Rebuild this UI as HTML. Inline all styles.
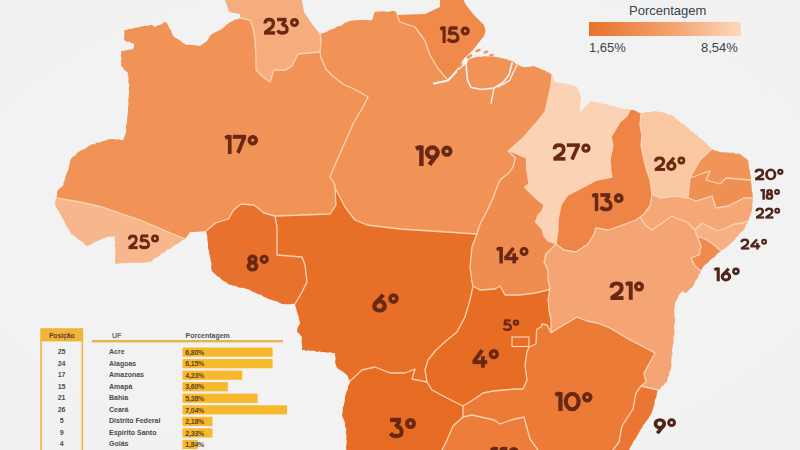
<!DOCTYPE html>
<html><head><meta charset="utf-8"><style>
html,body{margin:0;padding:0;}
body{width:800px;height:450px;overflow:hidden;position:relative;background:#f3f3f3;font-family:"Liberation Sans",sans-serif;}
#bg{position:absolute;left:0;top:0;width:800px;height:450px;}
#map{position:absolute;left:0;top:0;width:800px;height:450px;filter:blur(0.4px);}
.lb{position:absolute;font-weight:bold;color:#5a2210;line-height:1;white-space:nowrap;letter-spacing:-0.5px;}
.leg{position:absolute;color:#37434f;font-size:13px;line-height:1;white-space:nowrap;}
#grad{position:absolute;left:589px;top:22px;width:152px;height:14px;background:linear-gradient(90deg,#e8712a 0%,#f3a36e 55%,#fdd8bd 100%);}
.tp{position:absolute;left:42px;width:41px;text-align:center;font-size:7.5px;color:#3d3530;line-height:10px;}
.tu{position:absolute;left:108.5px;font-size:7.5px;color:#3d3530;line-height:10px;white-space:nowrap;}
.bar{position:absolute;left:182.5px;height:8.6px;background:#f6b833;}
.bt{position:absolute;left:184.5px;font-size:7px;color:#4a3420;line-height:10px;letter-spacing:-0.3px;}
</style></head><body>
<svg id="bg" width="800" height="450" viewBox="0 0 800 450">
<defs><radialGradient id="rg" cx="0.5" cy="0.5" r="0.7"><stop offset="0" stop-color="#f4f4f4"/><stop offset="1" stop-color="#f1f1f1"/></radialGradient></defs>
<rect width="800" height="450" fill="url(#rg)"/>
</svg>
<svg id="map" width="800" height="450" viewBox="0 0 800 450">
<path d="M56,198 L57,196 L57.06,193.48 L57.5,191 L59.23,188.73 L61.62,187.12 L63.5,185 L63.54,182.73 L64.54,180.68 L65,178.5 L65.86,175.95 L66.55,173.32 L68,171 L68.59,168.84 L68.68,166.53 L69.68,164.48 L69.88,162.21 L70.48,160.05 L71.5,158 L73.35,156.43 L75.52,155.28 L76.94,153.18 L78.91,151.76 L81,150.5 L83.27,149.38 L85.64,148.45 L87.64,146.85 L89.74,145.44 L92,144.3 L94.54,144.15 L96.67,142.5 L99.3,142.7 L101.54,141.44 L104,141 L106.57,139.95 L109.23,139.26 L112,139 L114.22,138.99 L116.37,139.75 L118.63,139.25 L120.79,139.89 L123,140 L124.14,137.73 L124.87,135.28 L126,133 L126.25,130.7 L125.92,128.36 L126.12,126.06 L126.48,123.77 L127.2,121.52 L127.12,119.19 L127.2,116.88 L127.69,114.61 L127.75,112.3 L128,110 L127.88,107.69 L128.52,105.41 L128.52,103.11 L128.12,100.79 L128.58,98.5 L128.63,96.2 L129.11,93.92 L129.05,91.61 L128.67,89.29 L129,87 L129.36,84.63 L128.25,82.36 L128.41,80.01 L128.62,77.65 L127.78,75.36 L128,73 L126.24,71.26 L124.14,69.86 L122.88,67.62 L121,66 L121.29,63.5 L121.08,61 L121.41,58.5 L120.8,56 L121.21,53.5 L121,51 L123.42,50.7 L125.81,50.29 L128.19,49.75 L130.66,49.77 L133,49 L133.98,46.6 L134,44 L131.49,43.03 L129.07,41.83 L126.32,41.45 L124,40 L124.22,37.5 L124.16,35 L124.54,32.5 L124,30 L126.4,29.93 L128.63,28.93 L130.98,28.63 L133.37,28.52 L135.57,27.4 L137.99,27.46 L140.27,26.72 L142.59,26.25 L144.91,25.77 L147.39,26.12 L149.59,25.02 L152,25 L155,27 L157.09,25.75 L159.35,24.89 L161.77,24.37 L163.61,22.58 L166,22 L167.3,23.97 L168.45,26.03 L169.39,28.22 L171,30 L171.68,32.47 L172.63,34.82 L174,37 L176.29,38.13 L178.38,39.59 L180.58,40.87 L182.45,42.69 L184.57,44.1 L187,45 L189.63,44.82 L192.23,45.04 L194.82,45.31 L197.42,45.51 L200,46 L202.32,44.32 L204.72,42.75 L207,41 L208.45,38.51 L209.89,36.02 L212,34 L213.96,32.92 L215.94,31.87 L218.03,31.07 L220,30 L222.31,28.79 L224.13,26.96 L226.01,25.21 L228.08,23.7 L230,22 L232.57,21.18 L234.82,19.54 L237.66,19.41 L240,18 L250,20 L253,28 L255,40 L256,56 L256,70 L262,76 L270,82 L274,70 L286,70 L292,66 L298,54 L320,52 L321,58 L323,62 L326,69 L332,75.5 L343,84 L354,89 L363,94 L368,97 L363,107 L354,122 L346,140 L338,158 L330,177 L335,185 L335,188 L336,205 L330,214 L275,216 L264,213 L254,205 L241,204 L233.5,210 L228.5,219 L215.5,223 L206,231 L203.73,231.36 L201.44,231.49 L199.17,231.86 L196.86,231.66 L194.59,232.07 L192.31,232.19 L190,232 L188.63,234.55 L186.67,236.67 L185,239 L140,220 L102,207 L80,202 L56,198Z" fill="#f19256"/>
<path d="M240,18 L240,14 L229,12 L228,8 L225,0 L225,-3 L302,-3 L302,0 L304,12 L312,24 L320,34 L321,40 L320,52 L298,54 L292,66 L286,70 L274,70 L270,82 L262,76 L256,70 L256,56 L255,40 L253,28 L250,20 L240,18Z" fill="#f6ad7e"/>
<path d="M320,34 L322.61,33.29 L325.15,32.38 L327.62,31.3 L330,30 L332.46,28.89 L334.96,27.9 L337.34,26.6 L340,26 L342.07,25.13 L343.78,23.57 L345.79,22.57 L347.86,21.71 L350,21 L352.18,20.53 L354.39,20.62 L356.58,20.21 L358.78,20.05 L360.98,20.12 L363.18,19.96 L365.39,20.15 L367.58,19.68 L369.82,20.51 L372,20 L373.12,17.38 L373.64,14.53 L375,12 L377.21,11.62 L379.44,11.61 L381.66,11.52 L383.87,11.14 L386.13,11.83 L388.36,11.88 L390.55,11.18 L392.78,11.09 L395,11 L396.41,12.8 L397,15 L400,22 L415,27 L423,38 L425,41 L430,55 L437,67 L443,74.5 L448,80 L449.44,77.94 L451.38,76.38 L453.07,74.57 L455,73 L457.01,71.51 L458.24,69.24 L459.88,67.38 L462,66 L464.02,64.68 L465.36,62.69 L467,61 L469.3,59.17 L472,58 L474.41,57.65 L476.71,56.69 L479.21,56.83 L481.69,56.92 L484,56 L486.37,56.6 L488.78,56.62 L491.22,56.34 L493.61,56.65 L496,57 L498.57,57.14 L500.94,58.29 L503.49,58.54 L506,59 L508.9,60.29 L512,61 L514.11,62.35 L516,64 L518.45,64.72 L520.53,66.31 L523,67 L525.25,67.33 L527.44,66.99 L529.63,66.74 L531.83,66.55 L534,66 L536.06,67.24 L538.46,67.73 L540.49,69.02 L542.73,69.86 L545.05,70.53 L547,72 L549.77,73.05 L552,75 L551,85 L550,90 L545,112 L537,122 L523,138 L508,151 L515.5,158 L513,167 L509,173 L500,180 L495.5,191 L493,198 L487,211 L480,224 L477,234 L400,229 L367,225 L355,220 L345,207 L335,188 L335,185 L330,177 L338,158 L346,140 L354,122 L363,107 L368,97 L363,94 L354,89 L343,84 L332,75.5 L326,69 L323,62 L321,58 L320,52 L321,40 L320,34Z" fill="#f19256"/>
<path d="M397,15 L425,14 L440,7 L440,-3 L462,-3 L466,5 L474,15 L484,25 L485.5,31 L484,36 L480,41 L473,50 L464,58.5 L457,69 L450,78 L448,80 L443,74.5 L437,67 L430,55 L425,41 L423,38 L415,27 L400,22 L397,15Z" fill="#ef8a4b"/>
<path d="M56,198 L55.32,200.28 L55.41,202.68 L55,205 L56.17,207 L57.02,209.19 L58.6,210.94 L59.66,213 L60.65,215.1 L62,217 L62.66,219.37 L64.4,221.17 L65.05,223.55 L66.3,225.61 L67.49,227.69 L68.84,229.7 L70.02,231.8 L71,234 L73.07,234.94 L74.8,236.34 L76.62,237.62 L77.95,239.55 L80.05,240.45 L81.89,241.7 L83.72,242.97 L85,244.97 L87,246 L89.39,245.37 L91.52,244.17 L93.57,242.78 L95.77,241.74 L98.02,240.79 L100.32,239.96 L102.4,238.66 L104.75,237.95 L107,237 L109.63,236.41 L112.4,236.84 L115,236 L114.48,238.33 L114.95,240.67 L115.28,243 L114.49,245.33 L115.21,247.67 L115.16,250 L115.55,252.33 L115.13,254.67 L115.03,257 L115,259.33 L115.33,261.67 L115,264 L117.33,263.87 L119.64,263.19 L121.99,263.34 L124.31,263.02 L126.66,263.22 L128.97,262.7 L131.3,262.54 L133.65,262.72 L135.98,262.51 L138.34,262.76 L140.67,262.57 L143.02,262.68 L145.34,262.44 L147.68,262.37 L150,262 L152.24,260.94 L153.93,259.1 L155.89,257.64 L158.31,256.84 L160,255 L161.66,253.43 L163.89,252.71 L165.71,251.38 L167.22,249.58 L169.58,249.06 L171.49,247.86 L173.2,246.37 L175,245 L177.13,244.02 L179.18,242.89 L180.8,241.06 L183.01,240.22 L185,239 L140,220 L102,207 L80,202 L56,198Z" fill="#f7b68c"/>
<path d="M206,231 L215.5,223 L228.5,219 L233.5,210 L241,204 L254,205 L264,213 L275,216 L277,227 L277,255 L302,257 L305,265 L307,282 L302,292 L295,304 L292.4,303.77 L289.8,304.19 L287.2,304.21 L284.6,304.19 L282,304 L279.84,302.89 L277.68,301.8 L275.44,300.88 L272.97,300.57 L270.83,299.42 L268.4,299 L266.35,297.62 L264,297 L262.03,295.58 L259.92,294.44 L257.5,293.93 L255.37,292.83 L253.15,291.91 L251.05,290.75 L249,289.5 L246.73,288.92 L244.48,288.26 L242.17,287.83 L239.76,287.79 L237.55,286.98 L235.41,285.85 L233,285.86 L230.84,284.81 L228.5,284.5 L226.9,282.75 L224.91,281.53 L222.72,280.59 L221,279 L219.51,277.13 L217.29,276.13 L215.58,274.53 L213.8,273 L212,271.5 L211.43,269.03 L211.07,266.54 L211.64,263.93 L210.81,261.5 L210.5,259 L209.89,256.87 L209.53,254.69 L209.11,252.53 L208.77,250.35 L208.05,248.24 L208,246 L208.1,243.44 L207.49,240.98 L207.4,238.45 L207.18,235.93 L206.63,233.46 L206,231Z" fill="#e8722d"/>
<path d="M335,188 L336,205 L330,214 L275,216 L277,227 L277,255 L302,257 L305,265 L307,282 L302,292 L295,304 L295.65,306.67 L296.37,309.32 L297,312 L297.79,314.49 L298.9,316.88 L298.84,319.62 L300,322 L299.57,324.6 L298,326.85 L297.29,329.36 L297,332 L299.04,333.29 L300.37,335.3 L302,337 L301.65,339.6 L301.49,342.2 L302.06,344.8 L302.25,347.4 L302,350 L304.23,349.88 L306.36,350.89 L308.63,350.28 L310.79,350.89 L313.04,350.61 L315.2,351.23 L317.35,351.9 L319.64,351.2 L321.77,352.15 L324,352.01 L326.16,352.62 L328.38,352.62 L330.63,352.31 L332.76,353.24 L335,353 L335.02,355.25 L335.52,357.5 L335.55,359.75 L335,362 L336.01,365 L337,368 L339.03,369.36 L341.12,370.62 L343.23,371.88 L345.1,373.46 L347,375 L348.18,376.91 L348.67,379.17 L350,381 L362,370 L375,367 L390,373 L405,373 L415,369 L412,379 L427,382 L425,370 L428,360 L436,350 L447,340 L457,332 L465,317 L470,300 L473,286 L472,282 L470,267 L472,247 L477,234 L400,229 L367,225 L355,220 L345,207 L335,188Z" fill="#e86f27"/>
<path d="M552,75 L553.22,77.24 L554.24,79.56 L555,82 L557.47,82.54 L559.93,83.16 L562.51,82.94 L564.94,83.81 L567.43,84.2 L570,84 L572.14,85.46 L574.73,85.86 L577,87 L578.29,89.39 L579.28,91.89 L580.31,94.38 L581,97 L581.16,99.52 L580.53,101.99 L580.06,104.47 L579.96,106.98 L580.19,109.5 L580,112 L581.79,110.28 L583.58,108.56 L584.66,106.19 L586.8,104.79 L588.67,103.14 L590,101 L592.44,101.8 L594.95,102.27 L597.5,102.48 L600.07,102.65 L602.44,103.81 L605,104 L607.44,104.42 L609.72,105.52 L612.07,106.3 L614.63,106.29 L617,107 L619.19,107.39 L621.22,108.48 L623.44,108.74 L625.75,108.65 L627.93,109.1 L630,110 L627,116 L620,122 L614,132 L611,137 L613,145 L610,160 L611,172 L612,177 L597,180 L578,190 L568,195 L561,205 L558,220 L558,230 L556,244 L548,241 L544,236 L542,229 L535.5,222 L538,215.5 L542,211 L544,204.5 L540,202 L533,195.5 L524.5,187 L529,184 L526.5,169 L526.5,158 L520,155.5 L513,152 L508,151 L523,138 L537,122 L545,112 L550,90 L551,85 L552,75Z" fill="#fbd2b3"/>
<path d="M508,151 L513,152 L520,155.5 L526.5,158 L526.5,169 L529,184 L524.5,187 L533,195.5 L540,202 L544,204.5 L542,211 L538,215.5 L535.5,222 L542,229 L544,236 L548,241 L556,244 L546,254 L544,262 L548,270 L548,280 L550,288 L548,290 L535,293 L520,295 L505,295 L500,286 L495,289 L480,290 L473,286 L472,282 L470,267 L472,247 L477,234 L480,224 L487,211 L493,198 L495.5,191 L500,180 L509,173 L513,167 L515.5,158 L508,151Z" fill="#ef8c4f"/>
<path d="M630,110 L633.06,110.12 L636,111 L638.33,112.41 L641,113 L640,125 L642,135 L641,145 L644,160 L646,168 L650,180 L652,194 L650,206 L644,214 L640,217 L636,220 L620,226 L608,230 L596,228 L594,234 L588,244 L576,252 L564,250 L556,244 L558,230 L558,220 L561,205 L568,195 L578,190 L597,180 L612,177 L611,172 L610,160 L613,145 L611,137 L614,132 L620,122 L627,116 L630,110Z" fill="#ee8446"/>
<path d="M641,113 L643.38,113 L645.61,111.95 L648.05,112.36 L650.41,112.19 L652.69,111.5 L655,111 L657.47,111.41 L659.84,112.19 L662.38,112.32 L664.84,112.77 L667.02,114.36 L669.53,114.59 L672,115 L673.78,116.52 L675.29,118.37 L677.45,119.44 L678.94,121.31 L680.77,122.78 L683,123.76 L684.77,125.29 L686.55,126.83 L688.38,128.28 L690,130 L691.82,131.57 L693.92,132.79 L695.68,134.43 L697.75,135.68 L699.09,137.85 L701.35,138.87 L703.15,140.46 L705,142 L706.69,143.81 L708.19,145.81 L710.31,147.19 L712,149 L700,160 L692,174 L690,178 L688,198 L675,196 L660,198 L652,194 L650,180 L646,168 L644,160 L641,145 L642,135 L640,125 L641,113Z" fill="#f9c7a2"/>
<path d="M712,149 L714.51,150.43 L717.33,151 L720,152 L722.22,152.26 L724.44,152.47 L726.72,152.14 L728.9,152.82 L731.15,152.76 L733.39,152.79 L735.52,153.88 L737.81,153.42 L740,154 L742.02,155.48 L743.85,157.2 L745.96,158.55 L748,160 L748.52,162.19 L748.65,164.45 L748.94,166.68 L749.02,168.94 L750.1,171.05 L749.93,173.34 L750.61,175.51 L750.91,177.74 L751,180 L726,178 L720,184 L706,180 L710,171 L690,178 L692,174 L700,160 L712,149Z" fill="#f19458"/>
<path d="M690,178 L710,171 L706,180 L720,184 L726,178 L751,180 L750.95,182.28 L751.49,184.5 L751.68,186.76 L751.72,189.03 L751.8,191.3 L752.56,193.49 L752.63,195.76 L753,198 L744,198 L728,206 L716,208 L712,196 L696,201 L688,198 L690,178Z" fill="#f08f53"/>
<path d="M652,194 L660,198 L675,196 L688,198 L696,201 L712,196 L716,208 L728,206 L744,198 L753,198 L752.79,200.4 L752.59,202.8 L752.19,205.18 L752.25,207.6 L752,210 L751.21,212.49 L750.52,215.01 L749.28,217.36 L749,220 L743,223 L734,224 L726,228 L717,231 L710,227 L702,223 L695,230 L693,228 L687,222 L678,219 L672,216 L652,230 L645,225 L640,217 L644,214 L650,206 L652,194Z" fill="#f5a776"/>
<path d="M695,230 L702,223 L710,227 L717,231 L726,228 L734,224 L743,223 L749,220 L747.8,221.9 L746.63,223.81 L745.56,225.78 L745,228 L743.45,230.17 L741.45,231.96 L739.38,233.68 L738,236 L736.14,237.34 L735.08,239.48 L733.49,241.09 L731.65,242.45 L730,244 L728.49,245.77 L726.58,247.03 L724.89,248.57 L722.69,249.45 L721,251 L713,244 L705,239 L697,236 L695,230Z" fill="#f6b085"/>
<path d="M697,236 L705,239 L713,244 L721,251 L718.79,252.51 L716.71,254.17 L715.25,256.54 L713,258 L711.1,259.32 L709.39,260.87 L708.01,262.8 L706,264 L703.99,266.09 L702.25,268.37 L701,271 L695,266 L691,258 L699,255 L701,246 L697,236Z" fill="#ef8b4f"/>
<path d="M556,244 L564,250 L576,252 L588,244 L594,234 L596,228 L608,230 L620,226 L636,220 L640,217 L645,225 L652,230 L672,216 L678,219 L687,222 L693,228 L695,230 L697,236 L701,246 L699,255 L691,258 L695,266 L701,271 L700.28,273.14 L698.55,274.78 L698.1,277.05 L697.01,279.01 L695.52,280.76 L694.67,282.84 L694,285 L692.66,286.86 L690.85,288.25 L689.19,289.79 L687.73,291.53 L686,293 L683.85,292.3 L682,291 L680.83,293.11 L679.13,294.86 L678,297 L677.47,299.24 L675.95,300.97 L675,303 L674.73,305.34 L674.86,307.74 L674,310 L674.38,312.38 L674.26,314.81 L674.59,317.2 L675.28,319.56 L675,322 L674.27,324.15 L674.28,326.37 L673.88,328.55 L674.63,330.84 L674.26,333.02 L674.3,335.25 L673.29,337.37 L673.65,339.62 L673.61,341.84 L673,344 L672.89,346.31 L672.15,348.56 L672.05,350.87 L672.46,353.22 L672.38,355.53 L671.34,357.76 L671.52,360.09 L671.18,362.38 L671.65,364.74 L671,367 L670.9,369.27 L669.66,371.23 L669.37,373.45 L669.17,375.69 L667.68,377.59 L667.43,379.82 L667,382 L664.98,383.35 L663.7,385.54 L661.34,386.51 L660.12,388.76 L658,390 L641,386 L646,382 L644,373 L649,364 L655,353 L644,347 L630,340 L620,334 L610,328 L597,323 L587,321 L577,317 L562,326 L557,329 L551,333 L551,320 L549,310 L548,300 L550,288 L548,280 L548,270 L544,262 L546,254 L556,244Z" fill="#f5a574"/>
<path d="M473,286 L480,290 L495,289 L500,286 L505,295 L520,295 L535,293 L548,290 L550,288 L548,300 L549,310 L551,320 L551,333 L547,325 L542,324 L541,327 L537,329 L536.5,332 L536,344 L529,347 L527,352 L525,365 L527,380 L523,389 L515,389 L493,391 L483,393 L476,398 L463,406 L447,398 L432,390 L427,382 L425,370 L428,360 L436,350 L447,340 L457,332 L465,317 L470,300 L473,286Z" fill="#e76c24"/>
<path d="M350,381 L362,370 L375,367 L390,373 L405,373 L415,369 L412,379 L427,382 L432,390 L447,398 L463,406 L463,417 L453,426 L447,440 L442,450 L440,462 L347,462 L346.88,459.73 L346.38,457.48 L346.35,455.21 L346.59,452.94 L346.32,450.68 L346.18,448.41 L346.03,446.15 L346.61,443.86 L346.74,441.59 L346.32,439.33 L346.52,437.06 L346.48,434.79 L345.65,432.55 L346.3,430.26 L346,428 L344.98,425.94 L345.09,423.54 L344.47,421.35 L343.57,419.26 L342.74,417.14 L342,415 L342.58,412.6 L342.76,410.13 L342.75,407.62 L343.83,405.31 L344.28,402.88 L344.8,400.47 L345,398 L345.2,395.75 L346.03,393.68 L346.43,391.49 L347.9,389.62 L347.77,387.27 L348.49,385.17 L349.9,383.28 L350,381Z" fill="#e66b23"/>
<path d="M551,333 L547,325 L542,324 L541,327 L537,329 L536.5,332 L536,344 L529,347 L527,352 L525,365 L527,380 L523,389 L515,389 L493,391 L483,393 L476,398 L463,406 L463,417 L472,415 L494,420 L500,424 L511,420 L524,417 L527,428 L530,439 L538,450 L540,462 L610,462 L613,450 L619,442 L622,426 L633,409 L636,393 L641,386 L646,382 L644,373 L649,364 L655,353 L644,347 L630,340 L620,334 L610,328 L597,323 L587,321 L577,317 L562,326 L557,329 L551,333Z" fill="#ec7b38"/>
<path d="M641,386 L658,390 L657.02,392.1 L656.85,394.41 L656.37,396.65 L655.54,398.78 L654.55,400.88 L654.65,403.27 L654.19,405.51 L653.17,407.59 L652.88,409.88 L652,412 L651.14,414.12 L649.87,415.98 L648.75,417.94 L647.39,419.73 L646.06,421.56 L644.85,423.45 L643.2,425.07 L642.42,427.24 L641,429 L639.67,431.17 L638.64,433.52 L637.14,435.59 L636.12,437.94 L634.57,439.98 L633,442 L632.48,444.24 L630.77,445.89 L629.95,447.97 L629.31,450.15 L628,452 L627.03,454.51 L625.56,456.82 L625.4,459.66 L624,462 L610,462 L613,450 L619,442 L622,426 L633,409 L636,393 L641,386Z" fill="#eb7633"/>
<path d="M463,417 L453,426 L447,440 L442,450 L440,462 L540,462 L538,450 L530,439 L527,428 L524,417 L511,420 L500,424 L494,420 L472,415 L463,417Z" fill="#ec7d3b"/>
<path d="M56,198 L80,202 L102,207 L140,220 L185,239" fill="none" stroke="#fcd3b2" stroke-width="1.3" stroke-linejoin="round"/>
<path d="M240,18 L250,20 L253,28 L255,40 L256,56 L256,70 L262,76 L270,82 L274,70 L286,70 L292,66 L298,54 L320,52" fill="none" stroke="#fcd3b2" stroke-width="1.3" stroke-linejoin="round"/>
<path d="M320,34 L321,40 L320,52" fill="none" stroke="#fcd3b2" stroke-width="1.3" stroke-linejoin="round"/>
<path d="M320,52 L321,58 L323,62 L326,69 L332,75.5 L343,84 L354,89 L363,94 L368,97 L363,107 L354,122 L346,140 L338,158 L330,177 L335,185 L335,188" fill="none" stroke="#fcd3b2" stroke-width="1.3" stroke-linejoin="round"/>
<path d="M335,188 L336,205 L330,214 L275,216" fill="none" stroke="#fcd3b2" stroke-width="1.3" stroke-linejoin="round"/>
<path d="M206,231 L215.5,223 L228.5,219 L233.5,210 L241,204 L254,205 L264,213 L275,216" fill="none" stroke="#fcd3b2" stroke-width="1.3" stroke-linejoin="round"/>
<path d="M275,216 L277,227 L277,255 L302,257 L305,265 L307,282 L302,292 L295,304" fill="none" stroke="#fcd3b2" stroke-width="1.3" stroke-linejoin="round"/>
<path d="M335,188 L345,207 L355,220 L367,225 L400,229 L477,234" fill="none" stroke="#fcd3b2" stroke-width="1.3" stroke-linejoin="round"/>
<path d="M397,15 L400,22 L415,27 L423,38 L425,41 L430,55 L437,67 L443,74.5 L448,80" fill="none" stroke="#fcd3b2" stroke-width="1.3" stroke-linejoin="round"/>
<path d="M552,75 L551,85 L550,90 L545,112 L537,122 L523,138 L508,151" fill="none" stroke="#fcd3b2" stroke-width="1.3" stroke-linejoin="round"/>
<path d="M508,151 L515.5,158 L513,167 L509,173 L500,180 L495.5,191 L493,198 L487,211 L480,224 L477,234" fill="none" stroke="#fcd3b2" stroke-width="1.3" stroke-linejoin="round"/>
<path d="M508,151 L513,152 L520,155.5 L526.5,158 L526.5,169 L529,184 L524.5,187 L533,195.5 L540,202 L544,204.5 L542,211 L538,215.5 L535.5,222 L542,229 L544,236 L548,241 L556,244" fill="none" stroke="#fcd3b2" stroke-width="1.3" stroke-linejoin="round"/>
<path d="M630,110 L627,116 L620,122 L614,132 L611,137 L613,145 L610,160 L611,172 L612,177 L597,180 L578,190 L568,195 L561,205 L558,220 L558,230 L556,244" fill="none" stroke="#fcd3b2" stroke-width="1.3" stroke-linejoin="round"/>
<path d="M641,113 L640,125 L642,135 L641,145 L644,160 L646,168 L650,180 L652,194" fill="none" stroke="#fcd3b2" stroke-width="1.3" stroke-linejoin="round"/>
<path d="M712,149 L700,160 L692,174 L690,178" fill="none" stroke="#fcd3b2" stroke-width="1.3" stroke-linejoin="round"/>
<path d="M690,178 L710,171 L706,180 L720,184 L726,178 L751,180" fill="none" stroke="#fcd3b2" stroke-width="1.3" stroke-linejoin="round"/>
<path d="M690,178 L688,198" fill="none" stroke="#fcd3b2" stroke-width="1.3" stroke-linejoin="round"/>
<path d="M688,198 L696,201 L712,196 L716,208 L728,206 L744,198 L753,198" fill="none" stroke="#fcd3b2" stroke-width="1.3" stroke-linejoin="round"/>
<path d="M652,194 L660,198 L675,196 L688,198" fill="none" stroke="#fcd3b2" stroke-width="1.3" stroke-linejoin="round"/>
<path d="M652,194 L650,206 L644,214 L640,217" fill="none" stroke="#fcd3b2" stroke-width="1.3" stroke-linejoin="round"/>
<path d="M556,244 L564,250 L576,252 L588,244 L594,234 L596,228 L608,230 L620,226 L636,220 L640,217" fill="none" stroke="#fcd3b2" stroke-width="1.3" stroke-linejoin="round"/>
<path d="M640,217 L645,225 L652,230 L672,216 L678,219 L687,222 L693,228 L695,230" fill="none" stroke="#fcd3b2" stroke-width="1.3" stroke-linejoin="round"/>
<path d="M695,230 L702,223 L710,227 L717,231 L726,228 L734,224 L743,223 L749,220" fill="none" stroke="#fcd3b2" stroke-width="1.3" stroke-linejoin="round"/>
<path d="M695,230 L697,236" fill="none" stroke="#fcd3b2" stroke-width="1.3" stroke-linejoin="round"/>
<path d="M697,236 L705,239 L713,244 L721,251" fill="none" stroke="#fcd3b2" stroke-width="1.3" stroke-linejoin="round"/>
<path d="M697,236 L701,246 L699,255 L691,258 L695,266 L701,271" fill="none" stroke="#fcd3b2" stroke-width="1.3" stroke-linejoin="round"/>
<path d="M556,244 L546,254 L544,262 L548,270 L548,280 L550,288" fill="none" stroke="#fcd3b2" stroke-width="1.3" stroke-linejoin="round"/>
<path d="M477,234 L472,247 L470,267 L472,282 L473,286" fill="none" stroke="#fcd3b2" stroke-width="1.3" stroke-linejoin="round"/>
<path d="M473,286 L480,290 L495,289 L500,286 L505,295 L520,295 L535,293 L548,290 L550,288" fill="none" stroke="#fcd3b2" stroke-width="1.3" stroke-linejoin="round"/>
<path d="M550,288 L548,300 L549,310 L551,320 L551,333" fill="none" stroke="#fcd3b2" stroke-width="1.3" stroke-linejoin="round"/>
<path d="M551,333 L557,329 L562,326 L577,317 L587,321 L597,323 L610,328 L620,334 L630,340 L644,347 L655,353 L649,364 L644,373 L646,382 L641,386" fill="none" stroke="#fcd3b2" stroke-width="1.3" stroke-linejoin="round"/>
<path d="M641,386 L658,390" fill="none" stroke="#fcd3b2" stroke-width="1.3" stroke-linejoin="round"/>
<path d="M641,386 L636,393 L633,409 L622,426 L619,442 L613,450 L610,462" fill="none" stroke="#fcd3b2" stroke-width="1.3" stroke-linejoin="round"/>
<path d="M551,333 L547,325 L542,324 L541,327 L537,329 L536.5,332 L536,344 L529,347 L527,352 L525,365 L527,380 L523,389 L515,389 L493,391 L483,393 L476,398 L463,406" fill="none" stroke="#fcd3b2" stroke-width="1.3" stroke-linejoin="round"/>
<path d="M473,286 L470,300 L465,317 L457,332 L447,340 L436,350 L428,360 L425,370 L427,382" fill="none" stroke="#fcd3b2" stroke-width="1.3" stroke-linejoin="round"/>
<path d="M350,381 L362,370 L375,367 L390,373 L405,373 L415,369 L412,379 L427,382" fill="none" stroke="#fcd3b2" stroke-width="1.3" stroke-linejoin="round"/>
<path d="M427,382 L432,390 L447,398 L463,406" fill="none" stroke="#fcd3b2" stroke-width="1.3" stroke-linejoin="round"/>
<path d="M463,406 L463,417" fill="none" stroke="#fcd3b2" stroke-width="1.3" stroke-linejoin="round"/>
<path d="M463,417 L453,426 L447,440 L442,450 L440,462" fill="none" stroke="#fcd3b2" stroke-width="1.3" stroke-linejoin="round"/>
<path d="M463,417 L472,415 L494,420 L500,424 L511,420 L524,417 L527,428 L530,439 L538,450 L540,462" fill="none" stroke="#fcd3b2" stroke-width="1.3" stroke-linejoin="round"/>
<rect x="512" y="337" width="17" height="9.5" fill="#e76e27" stroke="#fde3cf" stroke-width="1"/>
<path d="M434,83.5 L448,80.5 L455,73 L462,66 L467,61" fill="none" stroke="#f5f4f3" stroke-width="2.1" stroke-linecap="round" stroke-linejoin="round"/>
<path d="M466,61 L466.5,70 L467.5,80 L471,87.5 L482,89.5 L494,88 L503,82.5 L509,75 L512,63" fill="none" stroke="#f5f4f3" stroke-width="1.7" stroke-linecap="round" stroke-linejoin="round"/>
<path d="M494,88 L491,103" fill="none" stroke="#f5f4f3" stroke-width="1.3" stroke-linecap="round"/>
<path d="M517,65 L513,73 L510,80 L504,84 L498,87" fill="none" stroke="#f5f4f3" stroke-width="1.3" stroke-linecap="round" stroke-linejoin="round"/>
<ellipse cx="469.5" cy="56.5" rx="3.2" ry="1.4" transform="rotate(-35 469.5 56.5)" fill="#f19256"/>
<ellipse cx="478" cy="50.5" rx="3" ry="1.3" transform="rotate(-25 478 50.5)" fill="#f19256"/>
<ellipse cx="486" cy="52" rx="2.6" ry="1.2" transform="rotate(-15 486 52)" fill="#f19256"/>
<ellipse cx="491.5" cy="55" rx="2.4" ry="1.1" transform="rotate(-10 491.5 55)" fill="#f19256"/>
<ellipse cx="460.5" cy="65.5" rx="2.8" ry="1.3" transform="rotate(-50 460.5 65.5)" fill="#f19256"/>
<ellipse cx="458.5" cy="71" rx="2" ry="1.1" transform="rotate(-50 458.5 71)" fill="#f19256"/>
</svg>
<div class="leg" style="left:629px;top:4px;">Porcentagem</div>
<div id="grad"></div>
<div class="leg" style="left:589px;top:41px;">1,65%</div>
<div class="leg" style="left:701px;top:41px;">8,54%</div>
<svg style="position:absolute;left:0;top:0" width="800" height="450" font-family="Liberation Sans">
<rect x="40.3" y="328.2" width="42.8" height="13.2" fill="#f0b43a"/>
<rect x="41.1" y="340" width="41.2" height="120" fill="none" stroke="#f0b43a" stroke-width="1.6"/>
<text x="61.7" y="337.8" font-size="7" font-weight="bold" fill="#5b4520" text-anchor="middle" textLength="25.6" lengthAdjust="spacingAndGlyphs">Posição</text>
<text x="111.9" y="337.8" font-size="7" font-weight="bold" fill="#6a6a6a">UF</text>
<text x="185.5" y="337.8" font-size="7" font-weight="bold" fill="#4a5560">Porcentagem</text>
<rect x="91.9" y="340" width="191.1" height="2.4" fill="#e6b54a"/>
<rect x="182.5" y="347.50" width="90.10" height="9.2" fill="#f7b82c"/>
<text x="61.6" y="354.00" font-size="7" font-weight="bold" fill="#4a4a4a" text-anchor="middle">25</text>
<text x="109" y="354.00" font-size="7" font-weight="bold" fill="#4a4a4a">Acre</text>
<text x="185.3" y="354.80" font-size="7" font-weight="bold" fill="#5e4420" letter-spacing="-0.2">6,80%</text>
<rect x="182.5" y="359.05" width="90.10" height="9.2" fill="#f7b82c"/>
<text x="61.6" y="365.55" font-size="7" font-weight="bold" fill="#4a4a4a" text-anchor="middle">24</text>
<text x="109" y="365.55" font-size="7" font-weight="bold" fill="#4a4a4a">Alagoas</text>
<text x="185.3" y="366.35" font-size="7" font-weight="bold" fill="#5e4420" letter-spacing="-0.2">6,15%</text>
<rect x="182.5" y="370.60" width="59.80" height="9.2" fill="#f7b82c"/>
<text x="61.6" y="377.10" font-size="7" font-weight="bold" fill="#4a4a4a" text-anchor="middle">17</text>
<text x="109" y="377.10" font-size="7" font-weight="bold" fill="#4a4a4a">Amazonas</text>
<text x="185.3" y="377.90" font-size="7" font-weight="bold" fill="#5e4420" letter-spacing="-0.2">4,23%</text>
<rect x="182.5" y="382.15" width="45.30" height="9.2" fill="#f7b82c"/>
<text x="61.6" y="388.65" font-size="7" font-weight="bold" fill="#4a4a4a" text-anchor="middle">15</text>
<text x="109" y="388.65" font-size="7" font-weight="bold" fill="#4a4a4a">Amapá</text>
<text x="185.3" y="389.45" font-size="7" font-weight="bold" fill="#5e4420" letter-spacing="-0.2">3,60%</text>
<rect x="182.5" y="393.70" width="75.10" height="9.2" fill="#f7b82c"/>
<text x="61.6" y="400.20" font-size="7" font-weight="bold" fill="#4a4a4a" text-anchor="middle">21</text>
<text x="109" y="400.20" font-size="7" font-weight="bold" fill="#4a4a4a">Bahia</text>
<text x="185.3" y="401.00" font-size="7" font-weight="bold" fill="#5e4420" letter-spacing="-0.2">5,38%</text>
<rect x="182.5" y="405.25" width="104.50" height="9.2" fill="#f7b82c"/>
<text x="61.6" y="411.75" font-size="7" font-weight="bold" fill="#4a4a4a" text-anchor="middle">26</text>
<text x="109" y="411.75" font-size="7" font-weight="bold" fill="#4a4a4a">Ceará</text>
<text x="185.3" y="412.55" font-size="7" font-weight="bold" fill="#5e4420" letter-spacing="-0.2">7,04%</text>
<rect x="182.5" y="416.80" width="30.00" height="9.2" fill="#f7b82c"/>
<text x="61.6" y="423.30" font-size="7" font-weight="bold" fill="#4a4a4a" text-anchor="middle">5</text>
<text x="109" y="423.30" font-size="7" font-weight="bold" fill="#4a4a4a">Distrito Federal</text>
<text x="185.3" y="424.10" font-size="7" font-weight="bold" fill="#5e4420" letter-spacing="-0.2">2,18%</text>
<rect x="182.5" y="428.35" width="30.00" height="9.2" fill="#f7b82c"/>
<text x="61.6" y="434.85" font-size="7" font-weight="bold" fill="#4a4a4a" text-anchor="middle">9</text>
<text x="109" y="434.85" font-size="7" font-weight="bold" fill="#4a4a4a">Espírito Santo</text>
<text x="185.3" y="435.65" font-size="7" font-weight="bold" fill="#5e4420" letter-spacing="-0.2">2,33%</text>
<rect x="182.5" y="439.90" width="15.00" height="9.2" fill="#f7b82c"/>
<text x="61.6" y="446.40" font-size="7" font-weight="bold" fill="#4a4a4a" text-anchor="middle">4</text>
<text x="109" y="446.40" font-size="7" font-weight="bold" fill="#4a4a4a">Goiás</text>
<text x="185.3" y="447.20" font-size="7" font-weight="bold" fill="#5e4420" letter-spacing="-0.2">1,84%</text>
</svg>
<svg style="position:absolute;left:0;top:0" width="800" height="450"><g fill="#682812" stroke="#682812" font-family="Liberation Sans" font-weight="bold"><g transform="translate(263.50,18.00) scale(0.1562,0.1650)" fill="none" stroke="#682812" stroke-width="21"><g transform="translate(-0.50,0)"><path d="M10,34 C10,17 20,9.5 37,9.5 C54,9.5 64,19 64,34 C64,46 58,54 48,62 L12,88"/><path d="M4,90.5 H74"/></g><g transform="translate(81.25,0)"><path d="M6,9.5 H66"/><path d="M60,14 L36,44"/><path d="M36,42 C56,40 70,52 70,70 C70,88 56,90.5 40,90.5 C27,90.5 15,86 8,76"/></g></g>
<circle cx="294.46" cy="22.54" r="2.97" fill="none" stroke="#682812" stroke-width="3.14"/>
<g transform="translate(439.70,26.50) scale(0.1476,0.1650)" fill="none" stroke="#682812" stroke-width="21"><g transform="translate(-1.00,0)"><path d="M31,0 V100"/><path d="M5,16 L19,9.5 H31" stroke-linejoin="round"/></g><g transform="translate(47.00,0)"><path d="M74,9.5 H18"/><path d="M24,8 L18,48"/><path d="M18,48 C26,42 34,40 42,40 C62,40 77,53 77,70 C77,87 61,90.5 42,90.5 C28,90.5 15,85 8,76"/></g></g>
<circle cx="465.26" cy="31.04" r="2.97" fill="none" stroke="#682812" stroke-width="3.14"/>
<g transform="translate(224.50,135.00) scale(0.1743,0.1900)" fill="none" stroke="#682812" stroke-width="21"><g transform="translate(-1.00,0)"><path d="M31,0 V100"/><path d="M5,16 L19,9.5 H31" stroke-linejoin="round"/></g><g transform="translate(47.50,0)"><path d="M0,9.5 H76"/><path d="M66,12 L30,94"/></g></g>
<circle cx="252.78" cy="140.22" r="3.42" fill="none" stroke="#682812" stroke-width="3.61"/>
<g transform="translate(415.00,145.50) scale(0.2129,0.2050)" fill="none" stroke="#682812" stroke-width="21"><g transform="translate(-1.00,0)"><path d="M31,0 V100"/><path d="M5,16 L19,9.5 H31" stroke-linejoin="round"/></g><g transform="translate(39.50,0)"><circle cx="42" cy="34" r="24.5"/><path d="M64,44 L28,94"/></g></g>
<circle cx="446.86" cy="151.14" r="3.69" fill="none" stroke="#682812" stroke-width="3.90"/>
<g transform="translate(552.80,143.50) scale(0.1720,0.1700)" fill="none" stroke="#682812" stroke-width="21"><g transform="translate(-0.50,0)"><path d="M10,34 C10,17 20,9.5 37,9.5 C54,9.5 64,19 64,34 C64,46 58,54 48,62 L12,88"/><path d="M4,90.5 H74"/></g><g transform="translate(81.50,0)"><path d="M0,9.5 H76"/><path d="M66,12 L30,94"/></g></g>
<circle cx="585.93" cy="148.18" r="3.06" fill="none" stroke="#682812" stroke-width="3.23"/>
<g transform="translate(654.20,156.60) scale(0.1482,0.1420)" fill="none" stroke="#682812" stroke-width="21"><g transform="translate(-0.50,0)"><path d="M10,34 C10,17 20,9.5 37,9.5 C54,9.5 64,19 64,34 C64,46 58,54 48,62 L12,88"/><path d="M4,90.5 H74"/></g><g transform="translate(73.50,0)"><path d="M60,8 L20,56"/><circle cx="42" cy="66" r="24.5"/></g></g>
<circle cx="681.39" cy="160.50" r="2.56" fill="none" stroke="#682812" stroke-width="2.70"/>
<g transform="translate(754.60,168.70) scale(0.1308,0.1150)" fill="none" stroke="#51261a" stroke-width="21"><g transform="translate(-0.50,0)"><path d="M10,34 C10,17 20,9.5 37,9.5 C54,9.5 64,19 64,34 C64,46 58,54 48,62 L12,88"/><path d="M4,90.5 H74"/></g><g transform="translate(81.50,0)"><ellipse cx="42" cy="50" rx="32.5" ry="40.5"/></g></g>
<circle cx="780.34" cy="171.86" r="2.07" fill="none" stroke="#51261a" stroke-width="2.19"/>
<g transform="translate(760.00,189.00) scale(0.1211,0.1070)" fill="none" stroke="#51261a" stroke-width="21"><g transform="translate(-1.00,0)"><path d="M31,0 V100"/><path d="M5,16 L19,9.5 H31" stroke-linejoin="round"/></g><g transform="translate(38.50,0)"><circle cx="40" cy="27" r="17.5"/><circle cx="40" cy="69" r="21.5"/></g></g>
<circle cx="777.06" cy="191.94" r="1.93" fill="none" stroke="#51261a" stroke-width="2.03"/>
<g transform="translate(755.60,207.70) scale(0.1148,0.1080)" fill="none" stroke="#51261a" stroke-width="21"><g transform="translate(-0.50,0)"><path d="M10,34 C10,17 20,9.5 37,9.5 C54,9.5 64,19 64,34 C64,46 58,54 48,62 L12,88"/><path d="M4,90.5 H74"/></g><g transform="translate(81.00,0)"><path d="M10,34 C10,17 20,9.5 37,9.5 C54,9.5 64,19 64,34 C64,46 58,54 48,62 L12,88"/><path d="M4,90.5 H74"/></g></g>
<circle cx="777.23" cy="210.67" r="1.94" fill="none" stroke="#51261a" stroke-width="2.05"/>
<g transform="translate(591.60,193.30) scale(0.1640,0.1780)" fill="none" stroke="#682812" stroke-width="21"><g transform="translate(-1.00,0)"><path d="M31,0 V100"/><path d="M5,16 L19,9.5 H31" stroke-linejoin="round"/></g><g transform="translate(47.25,0)"><path d="M6,9.5 H66"/><path d="M60,14 L36,44"/><path d="M36,42 C56,40 70,52 70,70 C70,88 56,90.5 40,90.5 C27,90.5 15,86 8,76"/></g></g>
<circle cx="618.71" cy="198.19" r="3.20" fill="none" stroke="#682812" stroke-width="3.38"/>
<g transform="translate(128.00,234.60) scale(0.1309,0.1440)" fill="none" stroke="#682812" stroke-width="21"><g transform="translate(-0.50,0)"><path d="M10,34 C10,17 20,9.5 37,9.5 C54,9.5 64,19 64,34 C64,46 58,54 48,62 L12,88"/><path d="M4,90.5 H74"/></g><g transform="translate(81.00,0)"><path d="M74,9.5 H18"/><path d="M24,8 L18,48"/><path d="M18,48 C26,42 34,40 42,40 C62,40 77,53 77,70 C77,87 61,90.5 42,90.5 C28,90.5 15,85 8,76"/></g></g>
<circle cx="155.04" cy="238.56" r="2.59" fill="none" stroke="#682812" stroke-width="2.74"/>
<g transform="translate(246.70,254.70) scale(0.1868,0.1670)" fill="none" stroke="#682812" stroke-width="21"><g transform="translate(-9.00,0)"><circle cx="40" cy="27" r="17.5"/><circle cx="40" cy="69" r="21.5"/></g></g>
<circle cx="264.21" cy="259.29" r="3.01" fill="none" stroke="#682812" stroke-width="3.17"/>
<g transform="translate(496.00,247.00) scale(0.1700,0.1640)" fill="none" stroke="#682812" stroke-width="21"><g transform="translate(-1.00,0)"><path d="M31,0 V100"/><path d="M5,16 L19,9.5 H31" stroke-linejoin="round"/></g><g transform="translate(45.00,0)"><path d="M58,6 L10,68"/><path d="M4,70.5 H86"/><path d="M62,38 V100"/></g></g>
<circle cx="524.09" cy="251.51" r="2.95" fill="none" stroke="#682812" stroke-width="3.12"/>
<g transform="translate(740.40,238.70) scale(0.1206,0.1080)" fill="none" stroke="#51261a" stroke-width="21"><g transform="translate(-0.50,0)"><path d="M10,34 C10,17 20,9.5 37,9.5 C54,9.5 64,19 64,34 C64,46 58,54 48,62 L12,88"/><path d="M4,90.5 H74"/></g><g transform="translate(79.00,0)"><path d="M58,6 L10,68"/><path d="M4,70.5 H86"/><path d="M62,38 V100"/></g></g>
<circle cx="764.13" cy="241.67" r="1.94" fill="none" stroke="#51261a" stroke-width="2.05"/>
<g transform="translate(713.70,267.60) scale(0.1504,0.1370)" fill="none" stroke="#51261a" stroke-width="21"><g transform="translate(-1.00,0)"><path d="M31,0 V100"/><path d="M5,16 L19,9.5 H31" stroke-linejoin="round"/></g><g transform="translate(39.50,0)"><path d="M60,8 L20,56"/><circle cx="42" cy="66" r="24.5"/></g></g>
<circle cx="735.93" cy="271.37" r="2.47" fill="none" stroke="#51261a" stroke-width="2.60"/>
<g transform="translate(372.40,293.30) scale(0.2098,0.1910)" fill="none" stroke="#682812" stroke-width="21"><g transform="translate(-8.00,0)"><path d="M60,8 L20,56"/><circle cx="42" cy="66" r="24.5"/></g></g>
<circle cx="393.45" cy="298.55" r="3.44" fill="none" stroke="#682812" stroke-width="3.63"/>
<g transform="translate(609.70,281.60) scale(0.1887,0.1820)" fill="none" stroke="#682812" stroke-width="21"><g transform="translate(-0.50,0)"><path d="M10,34 C10,17 20,9.5 37,9.5 C54,9.5 64,19 64,34 C64,46 58,54 48,62 L12,88"/><path d="M4,90.5 H74"/></g><g transform="translate(80.50,0)"><path d="M31,0 V100"/><path d="M5,16 L19,9.5 H31" stroke-linejoin="round"/></g></g>
<circle cx="639.00" cy="286.61" r="3.28" fill="none" stroke="#682812" stroke-width="3.46"/>
<g transform="translate(502.60,319.40) scale(0.1080,0.1160)" fill="none" stroke="#682812" stroke-width="21"><g transform="translate(-0.50,0)"><path d="M74,9.5 H18"/><path d="M24,8 L18,48"/><path d="M18,48 C26,42 34,40 42,40 C62,40 77,53 77,70 C77,87 61,90.5 42,90.5 C28,90.5 15,85 8,76"/></g></g>
<circle cx="516.01" cy="322.59" r="2.09" fill="none" stroke="#682812" stroke-width="2.20"/>
<g transform="translate(472.30,349.00) scale(0.1787,0.1870)" fill="none" stroke="#682812" stroke-width="21"><g transform="translate(-2.50,0)"><path d="M58,6 L10,68"/><path d="M4,70.5 H86"/><path d="M62,38 V100"/></g></g>
<circle cx="493.86" cy="354.14" r="3.37" fill="none" stroke="#682812" stroke-width="3.55"/>
<g transform="translate(389.00,418.00) scale(0.1817,0.2000)" fill="none" stroke="#682812" stroke-width="21"><g transform="translate(-0.25,0)"><path d="M6,9.5 H66"/><path d="M60,14 L36,44"/><path d="M36,42 C56,40 70,52 70,70 C70,88 56,90.5 40,90.5 C27,90.5 15,86 8,76"/></g></g>
<circle cx="410.50" cy="423.50" r="3.60" fill="none" stroke="#682812" stroke-width="3.80"/>
<g transform="translate(554.50,392.00) scale(0.1979,0.1900)" fill="none" stroke="#682812" stroke-width="21"><g transform="translate(-1.00,0)"><path d="M31,0 V100"/><path d="M5,16 L19,9.5 H31" stroke-linejoin="round"/></g><g transform="translate(47.50,0)"><ellipse cx="42" cy="50" rx="32.5" ry="40.5"/></g></g>
<circle cx="587.27" cy="397.23" r="3.42" fill="none" stroke="#682812" stroke-width="3.61"/>
<g transform="translate(653.80,418.30) scale(0.1782,0.1600)" fill="none" stroke="#51261a" stroke-width="21"><g transform="translate(-8.00,0)"><circle cx="42" cy="34" r="24.5"/><path d="M64,44 L28,94"/></g></g>
<circle cx="671.60" cy="422.70" r="2.88" fill="none" stroke="#51261a" stroke-width="3.04"/>
<g transform="translate(490.00,447.00) scale(0.1957,0.1900)" fill="none" stroke="#682812" stroke-width="21"><g transform="translate(-1.00,0)"><path d="M31,0 V100"/><path d="M5,16 L19,9.5 H31" stroke-linejoin="round"/></g><g transform="translate(46.50,0)"><path d="M31,0 V100"/><path d="M5,16 L19,9.5 H31" stroke-linejoin="round"/></g></g>
<circle cx="513.77" cy="452.23" r="3.42" fill="none" stroke="#682812" stroke-width="3.61"/></g></svg>
</body></html>
